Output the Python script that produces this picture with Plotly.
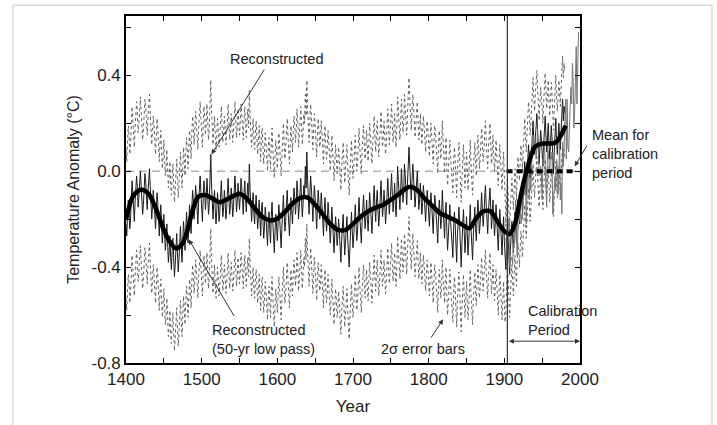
import numpy as np
import plotly.graph_objects as go

# Annual reconstructed NH temperature anomaly, 1400-1980 (one row per decade)
RECON_START = 1400
recon = [
    -0.22, -0.27, -0.19, -0.12, -0.16, -0.24, -0.20, -0.10, -0.04, -0.09,
    -0.17, -0.21, -0.13, -0.06, -0.02, -0.07, -0.15, -0.11, -0.03, 0.00,
    -0.06, -0.12, -0.18, -0.14, -0.05, -0.01, -0.04, -0.10, -0.16, -0.09,
    -0.03, 0.01, -0.06, -0.13, -0.20, -0.15, -0.08, -0.12, -0.19, -0.24,
    -0.17, -0.09, -0.13, -0.21, -0.27, -0.19, -0.14, -0.22, -0.30, -0.25,
    -0.18, -0.26, -0.33, -0.29, -0.22, -0.30, -0.38, -0.34, -0.27, -0.36,
    -0.41, -0.33, -0.28, -0.36, -0.44, -0.39, -0.31, -0.26, -0.34, -0.42,
    -0.37, -0.29, -0.23, -0.31, -0.38, -0.30, -0.21, -0.26, -0.33, -0.24,
    -0.17, -0.23, -0.30, -0.22, -0.14, -0.19, -0.26, -0.15, -0.08, -0.12,
    -0.20, -0.14, -0.06, -0.10, -0.17, -0.22, -0.13, -0.05, -0.02, -0.09,
    -0.15, -0.21, -0.12, -0.04, -0.08, -0.16, -0.11, -0.03, -0.10, -0.18,
    -0.14, -0.06, 0.07, -0.05, -0.15, -0.20, -0.13, -0.08, -0.17, -0.22,
    -0.16, -0.09, -0.14, -0.21, -0.17, -0.10, -0.04, -0.12, -0.19, -0.15,
    -0.08, -0.13, -0.20, -0.16, -0.09, -0.03, -0.11, -0.18, -0.14, -0.07,
    -0.12, -0.19, -0.15, -0.06, -0.02, -0.09, -0.17, -0.13, -0.05, -0.10,
    -0.16, -0.11, -0.03, -0.07, -0.14, -0.18, -0.09, -0.04, -0.12, -0.17,
    -0.10, -0.05, -0.13, 0.03, -0.08, -0.16, -0.21, -0.14, -0.09, -0.18,
    -0.22, -0.15, -0.10, -0.17, -0.24, -0.19, -0.12, -0.20, -0.27, -0.16,
    -0.13, -0.21, -0.28, -0.23, -0.15, -0.19, -0.26, -0.31, -0.22, -0.17,
    -0.24, -0.30, -0.19, -0.13, -0.21, -0.28, -0.34, -0.25, -0.18, -0.23,
    -0.29, -0.22, -0.14, -0.19, -0.27, -0.32, -0.24, -0.16, -0.10, -0.18,
    -0.25, -0.21, -0.13, -0.08, -0.15, -0.23, -0.27, -0.19, -0.11, -0.16,
    -0.22, -0.14, -0.07, -0.11, -0.18, -0.13, -0.04, -0.09, -0.20, -0.15,
    -0.08, -0.03, -0.12, -0.19, -0.14, -0.06, -0.10, 0.02, -0.07, 0.08,
    -0.04, -0.13, -0.18, -0.09, -0.02, -0.07, -0.16, -0.21, -0.12, -0.06,
    -0.11, -0.19, -0.24, -0.15, -0.08, -0.13, -0.20, -0.17, -0.09, -0.14,
    -0.22, -0.27, -0.16, -0.11, -0.19, -0.25, -0.21, -0.13, -0.18, -0.26,
    -0.30, -0.23, -0.15, -0.21, -0.28, -0.34, -0.26, -0.19, -0.24, -0.31,
    -0.27, -0.20, -0.25, -0.33, -0.38, -0.29, -0.22, -0.18, -0.26, -0.35,
    -0.30, -0.24, -0.19, -0.28, -0.37, -0.40, -0.31, -0.23, -0.17, -0.25,
    -0.32, -0.27, -0.20, -0.14, -0.22, -0.29, -0.25, -0.17, -0.11, -0.19,
    -0.26, -0.30, -0.21, -0.15, -0.10, -0.18, -0.24, -0.19, -0.12, -0.20,
    -0.25, -0.17, -0.09, -0.14, -0.22, -0.26, -0.18, -0.11, -0.06, -0.15,
    -0.21, -0.13, -0.08, -0.16, -0.23, -0.18, -0.10, -0.04, -0.12, -0.19,
    -0.15, -0.08, -0.14, -0.22, -0.17, -0.09, -0.03, -0.11, -0.18, -0.13,
    -0.06, -0.01, -0.10, -0.17, -0.12, -0.05, -0.14, -0.19, -0.09, 0.02,
    -0.04, -0.11, -0.16, -0.08, 0.01, -0.06, -0.13, -0.09, 0.03, -0.02,
    -0.10, -0.14, -0.05, 0.04, 0.10, 0.02, -0.07, -0.12, -0.04, 0.03,
    -0.02, -0.09, -0.15, -0.10, -0.03, 0.00, -0.08, -0.16, -0.12, -0.05,
    -0.11, -0.18, -0.13, -0.06, -0.10, -0.17, -0.21, -0.14, -0.08, -0.12,
    -0.19, -0.23, -0.15, -0.09, -0.14, -0.21, -0.26, -0.17, -0.10, -0.13,
    -0.20, -0.27, -0.30, -0.19, -0.12, -0.17, -0.24, -0.20, -0.08, -0.15,
    -0.22, -0.28, -0.18, -0.13, -0.25, -0.33, -0.27, -0.19, -0.14, -0.21,
    -0.26, -0.31, -0.36, -0.24, -0.17, -0.22, -0.29, -0.38, -0.27, -0.20,
    -0.15, -0.23, -0.32, -0.40, -0.30, -0.21, -0.16, -0.25, -0.34, -0.28,
    -0.19, -0.26, -0.35, -0.29, -0.20, -0.14, -0.24, -0.31, -0.37, -0.27,
    -0.21, -0.15, -0.24, -0.29, -0.20, -0.12, -0.17, -0.26, -0.22, -0.13,
    -0.09, -0.16, -0.23, -0.18, -0.10, -0.06, -0.14, -0.22, -0.26, -0.17,
    -0.11, -0.07, -0.15, -0.24, -0.19, -0.12, -0.20, -0.27, -0.22, -0.14,
    -0.20, -0.28, -0.33, -0.24, -0.16, -0.22, -0.30, -0.35, -0.26, -0.19,
    -0.29, -0.36, -0.41, -0.30, -0.22, -0.27, -0.35, -0.43, -0.33, -0.24,
    -0.21, -0.28, -0.34, -0.25, -0.17, -0.23, -0.30, -0.19, -0.12, -0.16,
    -0.22, -0.14, -0.07, -0.11, -0.18, -0.09, -0.01, 0.04, -0.05, -0.10,
    -0.02, 0.05, 0.11, 0.06, -0.03, 0.02, 0.09, 0.16, 0.21, 0.12,
    0.07, 0.14, 0.20, 0.24, 0.16, 0.09, 0.03, 0.10, 0.17, 0.13,
    0.06, 0.02, 0.11, 0.18, 0.23, 0.15, 0.08, 0.13, 0.20, 0.12,
    0.05, 0.11, 0.19, 0.14, 0.06, -0.01, 0.08, 0.16, 0.22, 0.13,
    0.07, 0.12, 0.20, 0.15, 0.09, 0.17, 0.25, 0.30, 0.21, 0.27,
    0.24,
]

# Two-sigma uncertainty, piecewise by period
sigma2_start = [1400, 1600, 1700, 1820, 1902]
sigma2_value = [0.31, 0.30, 0.29, 0.27, 0.18]

# Instrumental record, 1902-1998
INSTR_START = 1902
instrumental = [
    -0.28, -0.33, -0.38, -0.25, -0.20, -0.40, -0.35, -0.37,
    -0.36, -0.39, -0.30, -0.32, -0.15, -0.12, -0.28, -0.35, -0.25, -0.22,
    -0.20, -0.10, -0.22, -0.18, -0.20, -0.08, -0.02, -0.10, -0.05, -0.22,
    -0.02, 0.02, 0.00, -0.12, -0.03, -0.08, 0.02, 0.10, 0.15, 0.12,
    0.10, 0.12, 0.05, 0.10, 0.18, 0.08, -0.02, 0.00, 0.02, -0.02,
    -0.12, 0.05, 0.06, 0.12, -0.06, -0.08, -0.15, 0.10, 0.08, 0.05,
    0.00, 0.06, 0.05, 0.08, -0.18, -0.12, -0.05, -0.02, -0.08, 0.05,
    0.02, -0.10, -0.02, 0.15, -0.12, -0.05, -0.18, 0.12, 0.02, 0.10,
    0.15, 0.30, 0.05, 0.30, 0.10, 0.08, 0.18, 0.32, 0.35, 0.28,
    0.45, 0.38, 0.18, 0.25, 0.35, 0.52, 0.28, 0.48, 0.58,
]

# 50-year low-pass of the reconstruction
lowpass_year = [1400, 1410, 1420, 1430, 1440, 1450, 1458, 1466, 1474, 1480,
                1485, 1490, 1496, 1505, 1515, 1524, 1535, 1550, 1560, 1570,
                1580, 1590, 1600, 1610, 1620, 1630, 1640, 1650, 1660, 1670,
                1680, 1690, 1700, 1710, 1720, 1730, 1740, 1750, 1760, 1770,
                1776, 1785, 1795, 1805, 1815, 1825, 1835, 1845, 1854, 1862,
                1872, 1882, 1892, 1900, 1907, 1914, 1920, 1926, 1932, 1940,
                1950, 1960, 1968, 1975, 1981]
lowpass_value = [-0.20, -0.10, -0.078, -0.095, -0.16, -0.245, -0.295, -0.322, -0.305, -0.26,
                 -0.20, -0.145, -0.105, -0.10, -0.115, -0.13, -0.115, -0.094, -0.115, -0.155,
                 -0.19, -0.205, -0.198, -0.17, -0.135, -0.112, -0.11, -0.14, -0.18, -0.22,
                 -0.245, -0.245, -0.22, -0.19, -0.168, -0.152, -0.14, -0.12, -0.097, -0.072,
                 -0.065, -0.08, -0.115, -0.145, -0.175, -0.19, -0.205, -0.225, -0.238, -0.20,
                 -0.168, -0.168, -0.215, -0.25, -0.262, -0.22, -0.13, -0.04, 0.03, 0.10,
                 0.115, 0.115, 0.12, 0.15, 0.19]

# Calibration period mean (zero by construction of the anomaly)
calib_years = [1903, 1993]
calib_mean = [0.0, 0.0]

x_ticks = list(range(1400, 2001, 50))
x_ticktext = [str(v) if v % 100 == 0 else "" for v in x_ticks]
y_ticks = [-0.8, -0.6, -0.4, -0.2, 0.0, 0.2, 0.4, 0.6]
y_ticktext = ["-0.8", "", "-0.4", "", "0.0", "", "0.4", ""]

years = np.arange(RECON_START, RECON_START + len(recon))
rec = np.array(recon)
sig = np.zeros_like(rec)
for start, val in zip(sigma2_start, sigma2_value):
    sig[years >= start] = val
upper = rec + sig
lower = rec - sig
instr_years = np.arange(INSTR_START, INSTR_START + len(instrumental))

FONT = "Liberation Sans, Arial, sans-serif"
fig = go.Figure()

for band in (upper, lower):
    fig.add_trace(go.Scatter(x=years, y=band, mode="lines",
                             line=dict(color="#5f5f5f", width=1, dash="dot"),
                             hoverinfo="skip", showlegend=False))

fig.add_trace(go.Scatter(x=years, y=rec, mode="lines",
                         line=dict(color="#1a1a1a", width=1),
                         showlegend=False))
fig.add_trace(go.Scatter(x=instr_years, y=instrumental, mode="lines",
                         line=dict(color="#777777", width=1),
                         showlegend=False))
fig.add_trace(go.Scatter(x=lowpass_year, y=lowpass_value, mode="lines",
                         line=dict(color="black", width=4.5, shape="spline", smoothing=0.8),
                         showlegend=False))
fig.add_trace(go.Scatter(x=calib_years, y=calib_mean, mode="lines",
                         line=dict(color="black", width=4, dash="6px,4px"),
                         showlegend=False))

# zero reference and calibration boundary
fig.add_shape(type="line", xref="x", yref="y", x0=1400, x1=2000, y0=0, y1=0,
              line=dict(color="#8a8a8a", width=1, dash="8px,5px"), layer="below")
fig.add_shape(type="line", xref="x", yref="paper", x0=1904, x1=1904, y0=0, y1=1,
              line=dict(color="#333333", width=1.2))

# light outer frame
fig.add_shape(type="rect", xref="paper", yref="paper",
              x0=(13 - 126) / 454, x1=(712 - 126) / 454,
              y0=-0.25, y1=1 + 11 / 351,
              line=dict(color="#d9d9d9", width=1.5))

txt = dict(family=FONT, size=14.5, color="#222222")
arrow = dict(showarrow=True, arrowhead=2, arrowsize=1, arrowwidth=1,
             arrowcolor="#333333", axref="x", ayref="y", text="")

fig.add_annotation(x=1599, y=0.466, text="Reconstructed", showarrow=False,
                   font=txt, xanchor="center", yanchor="middle")
fig.add_annotation(x=1513, y=0.07, ax=1584, ay=0.43, **arrow)

fig.add_annotation(x=1511, y=-0.70, text="Reconstructed<br>(50-yr low pass)",
                   showarrow=False, font=txt, xanchor="left", yanchor="middle", align="left")
fig.add_annotation(x=1483, y=-0.285, ax=1544, ay=-0.61, **arrow)

fig.add_annotation(x=1793, y=-0.742, text="2\u03c3 error bars", showarrow=False,
                   font=txt, xanchor="center", yanchor="middle")
fig.add_annotation(x=1819, y=-0.618, ax=1802, ay=-0.70, **arrow)

fig.add_annotation(x=1928, y=-0.623, text="Calibration<br>Period", showarrow=False,
                   font=txt, xanchor="left", yanchor="middle", align="left")
fig.add_annotation(x=2000, y=-0.709, ax=1904, ay=-0.709, arrowside="end+start", **arrow)

fig.add_annotation(xref="paper", yref="y", x=(590 - 126) / 454, y=0.07,
                   text="Mean for<br>calibration<br>period", showarrow=False,
                   font=txt, xanchor="left", yanchor="middle", align="left")
fig.add_annotation(x=1993, y=0.02, ax=13, ay=-22, text="", showarrow=True,
                   arrowhead=2, arrowsize=1, arrowwidth=1, arrowcolor="#333333")

axis_common = dict(showgrid=False, zeroline=False, showline=True, linecolor="black",
                   linewidth=1.6, mirror="ticks", ticks="inside", ticklen=5,
                   tickwidth=1, tickcolor="black",
                   tickfont=dict(family=FONT, size=17, color="#222222"))

fig.update_layout(
    width=717, height=425,
    margin=dict(l=126, r=137, t=16, b=58),
    paper_bgcolor="white", plot_bgcolor="white",
    font=dict(family=FONT),
    xaxis=dict(range=[1400, 2000], tickvals=x_ticks, ticktext=x_ticktext,
               title=dict(text="Year", font=dict(family=FONT, size=17, color="#222222"),
                          standoff=12),
               **axis_common),
    yaxis=dict(range=[-0.8, 0.647], tickvals=y_ticks, ticktext=y_ticktext,
               title=dict(text="Temperature Anomaly (\u00b0C)",
                          font=dict(family=FONT, size=16, color="#222222"), standoff=8),
               **axis_common),
)

fig.write_html("out.html")
